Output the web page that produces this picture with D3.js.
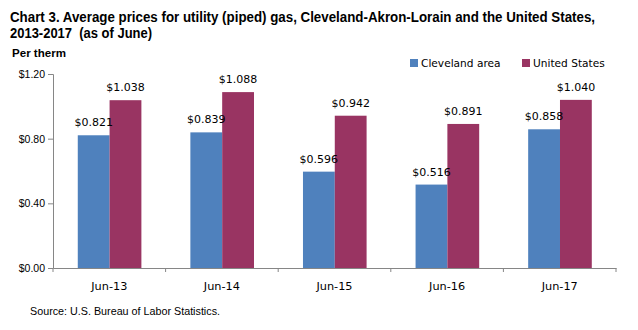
<!DOCTYPE html>
<html>
<head>
<meta charset="utf-8">
<script src="https://cdn.jsdelivr.net/npm/d3@7/dist/d3.min.js"></script>
<style>
  body { margin: 0; background: #fff; }
  svg { display: block; }
  text { white-space: pre; }
</style>
</head>
<body>
<svg id="chart"></svg>
<script>
// chart data
var periods = ["Jun-13", "Jun-14", "Jun-15", "Jun-16", "Jun-17"];
var seriesNames = ["Cleveland area", "United States"];
var clevelandPrices = [0.821, 0.839, 0.596, 0.516, 0.858];
var usPrices = [1.038, 1.088, 0.942, 0.891, 1.040];
var yTicks = [0, 0.40, 0.80, 1.20];

var screen = {width: 638, height: 330};
var margin = {top: 74, right: 22, bottom: 62, left: 53};
var width = screen.width - margin.left - margin.right;
var height = screen.height - margin.top - margin.bottom;

var colors = {"Cleveland area": "#4F81BD", "United States": "#993462"};

var rows = periods.map(function(p, i) {
    return {period: p, values: [
        {name: seriesNames[0], value: clevelandPrices[i]},
        {name: seriesNames[1], value: usPrices[i]}
    ]};
});

var svg = d3.select("#chart")
    .attr("width", screen.width)
    .attr("height", screen.height);

// title
var title = svg.append("g").attr("font-family", "Liberation Sans, Arial, sans-serif")
    .attr("font-weight", "bold").attr("font-size", "14px").attr("fill", "#000");
title.append("text").attr("x", 10).attr("y", 21.5)
    .attr("textLength", 585).attr("lengthAdjust", "spacingAndGlyphs")
    .text("Chart 3. Average prices for utility (piped) gas, Cleveland-Akron-Lorain and the United States,");
title.append("text").attr("x", 10).attr("y", 37.5)
    .attr("textLength", 142).attr("lengthAdjust", "spacingAndGlyphs")
    .text("2013-2017  (as of June)");

svg.append("text").attr("x", 12).attr("y", 57)
    .attr("font-family", "Liberation Sans, Arial, sans-serif")
    .attr("font-weight", "bold").attr("font-size", "11px")
    .attr("textLength", 54).attr("lengthAdjust", "spacingAndGlyphs")
    .text("Per therm");

var g = svg.append("g")
    .attr("transform", "translate(" + margin.left + "," + margin.top + ")");

var x0 = d3.scaleBand().domain(periods).range([0, width]);
var x1 = d3.scaleBand().domain(seriesNames)
    .range([x0.bandwidth() * 0.22, x0.bandwidth() * 0.785]);
var yScale = d3.scaleLinear().domain([0, 1.2]).range([height, 0]);

// bars
var groups = g.selectAll(".grp").data(rows).enter().append("g")
    .attr("class", "grp")
    .attr("transform", function(d) { return "translate(" + x0(d.period) + ",0)"; });

groups.selectAll("rect").data(function(d) { return d.values; }).enter().append("rect")
    .attr("x", function(d) { return x1(d.name); })
    .attr("width", x1.bandwidth())
    .attr("y", function(d) { return yScale(d.value); })
    .attr("height", function(d) { return height - yScale(d.value); })
    .attr("fill", function(d) { return colors[d.name]; });

groups.selectAll(".lbl").data(function(d) { return d.values; }).enter().append("text")
    .attr("class", "lbl")
    .attr("x", function(d) { return x1(d.name) + x1.bandwidth() / 2; })
    .attr("y", function(d) { return yScale(d.value) - 9; })
    .attr("text-anchor", "middle")
    .attr("font-family", "DejaVu Sans, sans-serif")
    .attr("font-size", "11px")
    .attr("fill", "#000")
    .text(function(d) { return "$" + d.value.toFixed(3); });

// axes
var yAxis = d3.axisLeft(yScale).tickValues(yTicks).tickSize(5).tickPadding(3)
    .tickFormat(function(d) { return "$" + d.toFixed(2); });
var yG = g.append("g").call(yAxis);
yG.select(".domain").attr("stroke", "#868686");
yG.selectAll(".tick line").attr("stroke", "#868686");
yG.selectAll("text").attr("font-family", "Liberation Sans, Arial, sans-serif")
    .attr("font-size", "10.5px").attr("fill", "#000");

var xAxis = d3.axisBottom(x0).tickSize(0).tickPadding(14);
var xG = g.append("g").attr("transform", "translate(0," + height + ")").call(xAxis);
xG.select(".domain").attr("stroke", "#868686");
xG.selectAll("text").attr("font-family", "DejaVu Sans, sans-serif")
    .attr("font-size", "11.3px").attr("fill", "#000");
// category boundary ticks
xG.selectAll(".sep").data(periods.concat(["end"])).enter().append("line")
    .attr("class", "sep")
    .attr("x1", function(d, i) { return i * x0.step(); })
    .attr("x2", function(d, i) { return i * x0.step(); })
    .attr("y1", 0).attr("y2", 4)
    .attr("stroke", "#868686");

// legend
var legend = svg.append("g").attr("transform", "translate(410,67)");
var legendX = [0, 112];
seriesNames.forEach(function(name, i) {
    legend.append("rect").attr("x", legendX[i]).attr("y", -8)
        .attr("width", 8).attr("height", 8).attr("fill", colors[name]);
    legend.append("text").attr("x", legendX[i] + 11).attr("y", 0)
        .attr("font-family", "DejaVu Sans, sans-serif").attr("font-size", "10.6px")
        .attr("fill", "#000")
        .text(name);
});

svg.append("text").attr("x", 30).attr("y", 315)
    .attr("font-family", "Liberation Sans, Arial, sans-serif")
    .attr("font-size", "10.5px")
    .attr("textLength", 190).attr("lengthAdjust", "spacingAndGlyphs")
    .text("Source: U.S. Bureau of Labor Statistics.");
</script>
</body>
</html>
